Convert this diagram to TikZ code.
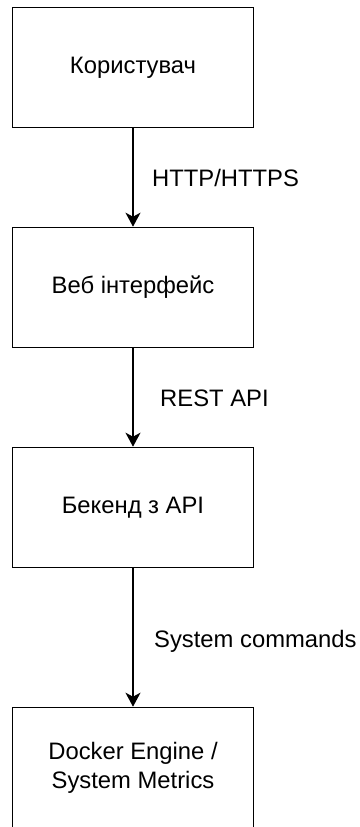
\documentclass[tikz,border=0pt]{standalone}
\usepackage{fontspec}
\setmainfont{Liberation Sans}
\usetikzlibrary{arrows.meta}
\begin{document}
\begin{tikzpicture}[x=1pt,y=1pt,
  stage/.style={draw, line width=1.6pt, minimum width=241pt, minimum height=120pt,
    inner sep=0pt, align=center, font=\fontsize{23.8}{29}\selectfont},
  flow/.style={line width=1.6pt, -{Stealth[length=14pt, width=15pt, inset=4pt]}},
  tag/.style={anchor=base west, inner sep=0pt, font=\fontsize{23.8}{29}\selectfont}]
\useasboundingbox (0,0) rectangle (359,-827);
\fill[white] (0,0) rectangle (359,-827);

% the four layers of the system, top to bottom
\node[stage] (user)    at (133,-67.5)  {Користувач};
\node[stage] (web)     at (133,-287.5) {Веб інтерфейс};
\node[stage] (backend) at (133,-507.5) {Бекенд з API};
\node[stage] (engine)  at (133,-767.5) {Docker Engine /\\System Metrics};

% calls between the layers
\draw[flow] (user) -- (web);
\draw[flow] (web) -- (backend);
\draw[flow] (backend) -- (engine);

% protocol of each call
\node[tag] (l1) at (152,-186)   {HTTP/HTTPS};
\node[tag] (l2) at (160,-406.5) {REST API};
\node[tag] (l3) at (154,-647)   {System commands};
\end{tikzpicture}
\end{document}
